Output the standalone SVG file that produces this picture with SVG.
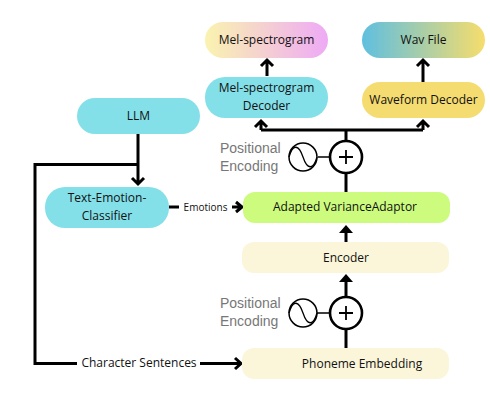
<svg xmlns="http://www.w3.org/2000/svg" width="490" height="412" viewBox="0 0 490 412">
<style>
text{font-family:"Open Sans","Noto Sans",sans-serif;font-size:12px;fill:#111;text-anchor:middle}
.pe{font-family:"Liberation Sans",Arial,sans-serif;font-size:14px;fill:#777;text-anchor:start}
.c{fill:none;stroke:#000;stroke-width:3}
.s{fill:#fff;stroke:#000;stroke-width:1.500}
.p{fill:#fff;stroke:#000;stroke-width:2.600}
.t{fill:#84e0e8}.y{fill:#f5dc70}.e{fill:#fbf6da}.g{fill:#ccfb7d}
</style>
<defs>
<linearGradient id="gm"><stop offset="0" stop-color="#faf3b0"/><stop offset="1" stop-color="#eeaaf5"/></linearGradient>
<linearGradient id="gw"><stop offset="0" stop-color="#5fbfe0"/><stop offset="1" stop-color="#f6dd6c"/></linearGradient>
<g id="wave"><circle class="s" r="14"/><path d="M-14 0C-10-14-4-12 0 0S10 14 14 0" fill="none" stroke="#000" stroke-width="1.300"/></g>
</defs>
<g id="connectors">
<path class="c" d="M267 76V62M261 66l6-6 6 6"/>
<path class="c" d="M423 82V62M417 66l6-6 6 6"/>
<path class="c" d="M346 142V130M261 130H423M261 130V121M423 130V121M255 127l6-6 6 6M417 127l6-6 6 6"/>
<path class="c" d="M346 173V192"/>
<path class="c" d="M346 242V232"/>
<path d="M346 225L339 233H353Z"/>
<path class="c" d="M346 297V280"/>
<path d="M346 274L339 282H353Z"/>
<path class="c" d="M346 348V329"/>
<path class="c" d="M138 134V184M132 178l6 6 6-6"/>
<path class="c" d="M138 164.500H35V363.500H77"/>
<path class="c" d="M200 363.500H240M235 358l6 5.500-6 5.500"/>
<path class="c" d="M169 207H179M232 207H241M236 202l6 5-6 5"/>
<path d="M318 157H332M317 313H332" stroke="#000" stroke-width="1.500"/>
</g>
<g id="mel-spectrogram"><rect x="205" y="22" width="123" height="36" rx="18" fill="url(#gm)"/><text x="266.500" y="44">Mel-spectrogram</text></g>
<g id="wav-file"><rect x="362" y="22" width="123" height="36" rx="18" fill="url(#gw)"/><text x="423.500" y="44">Wav File</text></g>
<g id="mel-decoder"><rect class="t" x="205" y="77" width="123" height="41" rx="20"/><text x="266.500" y="92">Mel-spectrogram</text><text x="266.500" y="110">Decoder</text></g>
<g id="waveform-decoder"><rect class="y" x="362" y="82" width="123" height="36" rx="18"/><text x="423.500" y="104">Waveform Decoder</text></g>
<g id="llm"><rect class="t" x="77" y="98" width="123" height="36" rx="18"/><text x="138.500" y="120">LLM</text></g>
<g id="classifier"><rect class="t" x="45" y="187" width="124" height="41" rx="20"/><text x="107" y="202">Text-Emotion-</text><text x="107" y="220">Classifier</text></g>
<g id="adaptor"><rect class="g" x="243" y="192" width="207" height="31" rx="12"/><text x="345" y="211">Adapted VarianceAdaptor</text></g>
<g id="encoder"><rect class="e" x="242" y="242" width="207" height="31" rx="12"/><text x="346" y="262">Encoder</text></g>
<g id="phoneme"><rect class="e" x="242" y="348" width="207" height="31" rx="12"/><text x="362" y="368">Phoneme Embedding</text></g>
<g id="emotions-label"><text x="205.500" y="211" style="font-size:10px">Emotions</text></g>
<g id="character-label"><text x="139" y="367">Character Sentences</text></g>
<g id="pe-top"><text class="pe" x="220" y="153">Positional</text><text class="pe" x="220" y="171">Encoding</text><use href="#wave" x="303" y="157"/><circle class="p" cx="346" cy="157" r="16"/><path d="M339 157H353M346 150V164" stroke="#000" stroke-width="1.800"/></g>
<g id="pe-bottom"><text class="pe" x="220" y="308">Positional</text><text class="pe" x="220" y="326">Encoding</text><use href="#wave" x="303" y="313"/><circle class="p" cx="346" cy="313" r="16"/><path d="M339 313H353M346 306V320" stroke="#000" stroke-width="1.800"/></g>
</svg>
